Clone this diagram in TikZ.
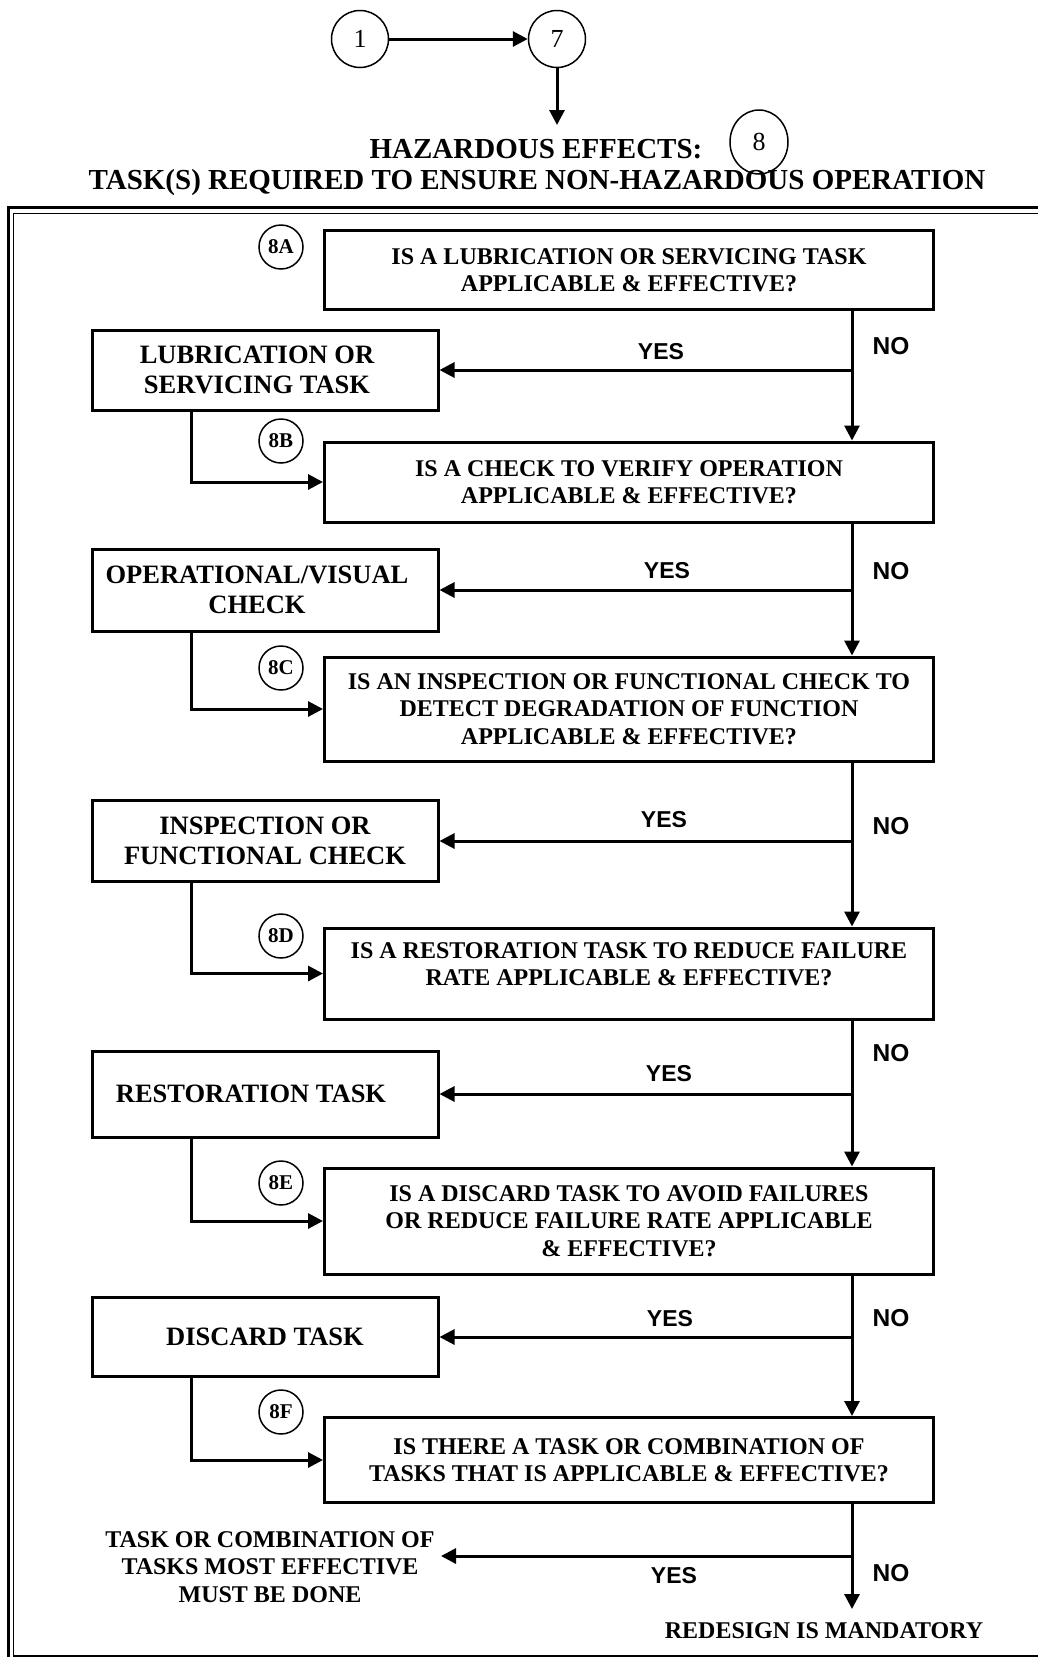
\documentclass[tikz,border=0pt]{standalone}
\usepackage{fontspec}
\setmainfont{Liberation Serif}
\newfontfamily\ynfont{Liberation Sans}
\usetikzlibrary{arrows.meta,positioning,calc,shapes.geometric}

\begin{document}
\begin{tikzpicture}[x=1pt,y=-1pt,
  arr/.style={line width=3pt,-{Triangle[length=15pt,width=15pt]}},
  qbox/.style={draw,line width=3pt,minimum width=609pt,minimum height=#1,inner sep=0pt,align=center,font=\fontsize{24}{27.5}\selectfont\bfseries},
  tbox/.style={draw,line width=3pt,minimum width=346pt,minimum height=#1,inner sep=0pt,align=center,font=\fontsize{26.5}{30}\selectfont\bfseries},
  tag/.style={circle,draw,line width=1.5pt,minimum size=44pt,inner sep=0pt,font=\fontsize{21}{21}\selectfont\bfseries},
  yn/.style={font=\ynfont\fontsize{23}{23}\selectfont\bfseries},
  lbl/.style={align=center,font=\fontsize{24}{27.5}\selectfont\bfseries}]
  \useasboundingbox (0,0) rectangle (1037,1657);

  % top of the chart
  \node[circle,draw,line width=1.5pt,minimum size=57pt,inner sep=0pt,font=\fontsize{26}{26}\selectfont] (c1) at (360,39) {1};
  \node[circle,draw,line width=1.5pt,minimum size=57pt,inner sep=0pt,font=\fontsize{26}{26}\selectfont] (c7) at (557,39) {7};
  \draw[arr] (c1) -- (c7);
  \coordinate (ttop) at (557,125);
  \draw[arr] (c7) -- (ttop);
  \node[font=\fontsize{29}{29}\selectfont\bfseries] (title1) at (536,149) {HAZARDOUS EFFECTS:};
  \node[ellipse,draw,line width=1.5pt,minimum width=58pt,minimum height=64pt,inner sep=0pt,font=\fontsize{26}{26}\selectfont] (c8) at (759,142) {8};
  \node[font=\fontsize{29}{29}\selectfont\bfseries] (title2) at (537,183) {TASK(S) REQUIRED TO ENSURE NON-HAZARDOUS OPERATION};

  % double frame
  \draw[line width=3pt] (8,207.5) rectangle (1050,1662);
  \draw[line width=1.5pt] (13.5,213.5) rectangle (1045,1656);

  % question boxes
  \node[qbox=79pt] (q8a) at (629,270) {IS A LUBRICATION OR SERVICING TASK\\APPLICABLE \& EFFECTIVE?};
  \node[qbox=80pt] (q8b) at (629,482) {IS A CHECK TO VERIFY OPERATION\\APPLICABLE \& EFFECTIVE?};
  \node[qbox=104pt] (q8c) at (629,709) {IS AN INSPECTION OR FUNCTIONAL CHECK TO\\DETECT DEGRADATION OF FUNCTION\\APPLICABLE \& EFFECTIVE?};
  \node[qbox=91pt,text depth=19pt] (q8d) at (629,973.5) {IS A RESTORATION TASK TO REDUCE FAILURE\\RATE APPLICABLE \& EFFECTIVE?};
  \node[qbox=106pt] (q8e) at (629,1221) {IS A DISCARD TASK TO AVOID FAILURES\\OR REDUCE FAILURE RATE APPLICABLE\\\& EFFECTIVE?};
  \node[qbox=85pt] (q8f) at (629,1460) {IS THERE A TASK OR COMBINATION OF\\TASKS THAT IS APPLICABLE \& EFFECTIVE?};

  % task boxes
  \node[tbox=80pt] (t1) at (265,370) {LUBRICATION OR\hspace*{16pt}\\SERVICING TASK\hspace*{16pt}};
  \node[tbox=82pt] (t2) at (265,590) {OPERATIONAL/VISUAL\hspace*{16pt}\\CHECK\hspace*{16pt}};
  \node[tbox=81pt] (t3) at (265,841) {INSPECTION OR\\FUNCTIONAL CHECK};
  \node[tbox=86pt] (t4) at (265,1094) {RESTORATION TASK\hspace*{28pt}};
  \node[tbox=79pt] (t5) at (265,1337) {DISCARD TASK};

  % step tags
  \node[tag] (g8a) at (281,247) {8A};
  \node[tag] (g8b) at (281,441) {8B};
  \node[tag] (g8c) at (281,668) {8C};
  \node[tag] (g8d) at (281,936) {8D};
  \node[tag] (g8e) at (281,1183) {8E};
  \node[tag] (g8f) at (281,1412) {8F};

  \coordinate (spine) at (852,0);
  \coordinate (drop) at (191,0);

  % NO path
  \draw[arr] (q8a.south -| spine) -- (q8b.north -| spine);
  \draw[arr] (q8b.south -| spine) -- (q8c.north -| spine);
  \draw[arr] (q8c.south -| spine) -- (q8d.north -| spine);
  \draw[arr] (q8d.south -| spine) -- (q8e.north -| spine);
  \draw[arr] (q8e.south -| spine) -- (q8f.north -| spine);
  \coordinate (noend) at (852,1609);
  \draw[arr] (q8f.south -| spine) -- (noend);

  % YES path
  \draw[arr] (t1.east -| spine) -- (t1.east);
  \draw[arr] (t2.east -| spine) -- (t2.east);
  \draw[arr] (t3.east -| spine) -- (t3.east);
  \draw[arr] (t4.east -| spine) -- (t4.east);
  \draw[arr] (t5.east -| spine) -- (t5.east);
  \coordinate (yesend) at (441,1556);
  \draw[arr] (yesend -| spine) -- (yesend);

  % back into the next question
  \draw[arr] (t1.south -| drop) |- (q8b.west);
  \draw[arr] (t2.south -| drop) |- (q8c.west);
  \draw[arr] (t3.south -| drop) |- (q8d.west);
  \draw[arr] (t4.south -| drop) |- (q8e.west);
  \draw[arr] (t5.south -| drop) |- (q8f.west);

  % answers
  \node[yn,font=\ynfont\fontsize{24.5}{24.5}\selectfont\bfseries] (n1) at (891,346) {NO};
  \node[yn] (y1) at (661,352) {YES};
  \node[yn,font=\ynfont\fontsize{24.5}{24.5}\selectfont\bfseries] (n2) at (891,571) {NO};
  \node[yn] (y2) at (667,571) {YES};
  \node[yn,font=\ynfont\fontsize{24.5}{24.5}\selectfont\bfseries] (n3) at (891,826) {NO};
  \node[yn] (y3) at (664,820) {YES};
  \node[yn,font=\ynfont\fontsize{24.5}{24.5}\selectfont\bfseries] (n4) at (891,1053) {NO};
  \node[yn] (y4) at (669,1074) {YES};
  \node[yn,font=\ynfont\fontsize{24.5}{24.5}\selectfont\bfseries] (n5) at (891,1318) {NO};
  \node[yn] (y5) at (670,1319) {YES};
  \node[yn,font=\ynfont\fontsize{24.5}{24.5}\selectfont\bfseries] (n6) at (891,1573) {NO};
  \node[yn] (y6) at (674,1576) {YES};

  % outcomes
  \node[lbl] (combo) at (270,1567) {TASK OR COMBINATION OF\\TASKS MOST EFFECTIVE\\MUST BE DONE};
  \node[lbl] (redesign) at (824,1631) {REDESIGN IS MANDATORY};
\end{tikzpicture}
\end{document}
